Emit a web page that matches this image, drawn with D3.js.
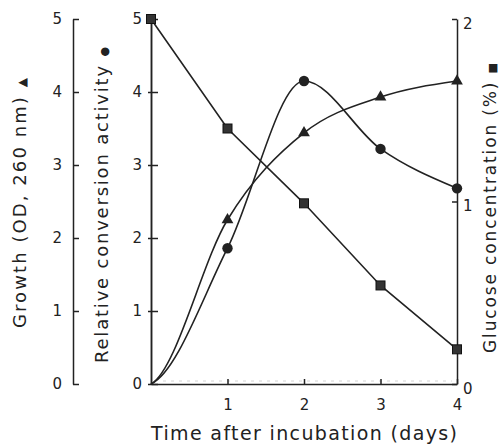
<!DOCTYPE html>
<html>
<head>
<meta charset="utf-8">
<script src="https://cdn.jsdelivr.net/npm/d3@7"></script>
<style>
  html, body { margin: 0; padding: 0; background: #fff; }
  svg { display: block; }
  text { font-family: "DejaVu Sans", sans-serif; fill: #222; }
</style>
</head>
<body>
<svg id="chart" width="501" height="445"></svg>
<script>
// ---- Data ----
const days = [0, 1, 2, 3, 4];
const growth = [0, 2.25, 3.44, 3.93, 4.15];        // OD 260 nm (▲), left outer axis 0-5
const activity = [0, 1.86, 4.15, 3.22, 2.68];      // relative conversion activity (●), left axis 0-5
const glucose = [2.0, 1.40, 0.99, 0.54, 0.19];     // glucose concentration % (■), right axis 0-2
const leftTicks = [0, 1, 2, 3, 4, 5];
const rightTicks = [0, 1, 2];
const xTicks = [1, 2, 3, 4];
const xTitle = "Time after incubation (days)";
const growthTitle = "Growth (OD, 260 nm) ";
const activityTitle = "Relative conversion activity ";
const glucoseTitle = "Glucose concentration (%) ";

const svg = d3.select("#chart");
const ink = "#222";

const x = d3.scaleLinear().domain([0, 4]).range([151, 457]);
const yMain = d3.scaleLinear().domain([0, 5]).range([384, 19]);
const yGrowth = d3.scaleLinear().domain([0, 5]).range([384, 19]);
const yGlu = d3.scaleLinear().domain([0, 2]).range([384, 19]);

// custom smooth curve: lag-phase start, monotone-ish interior tangents
function curveLag(context) {
  return {
    areaStart() {}, areaEnd() {},
    lineStart() { this._x = []; this._y = []; },
    point(px, py) { this._x.push(+px); this._y.push(+py); },
    lineEnd() {
      const X = this._x, Y = this._y, n = X.length;
      if (!n) return;
      const s = [];
      for (let i = 0; i < n - 1; i++) s.push((Y[i + 1] - Y[i]) / (X[i + 1] - X[i]));
      const t = new Array(n).fill(0);
      t[0] = 0.25 * s[0];
      for (let i = 1; i < n - 1; i++) {
        if (s[i - 1] * s[i] <= 0) t[i] = 0;
        else t[i] = (Y[i + 1] - Y[i - 1]) / (X[i + 1] - X[i - 1]);
      }
      if (n > 2) t[n - 1] = (3 * s[n - 2] - t[n - 2]) / 2;
      context.moveTo(X[0], Y[0]);
      for (let i = 0; i < n - 1; i++) {
        const h = X[i + 1] - X[i];
        context.bezierCurveTo(X[i] + h / 3, Y[i] + t[i] * h / 3,
                              X[i + 1] - h / 3, Y[i + 1] - t[i + 1] * h / 3,
                              X[i + 1], Y[i + 1]);
      }
    }
  };
}

// faint scan line near the x axis
svg.append("line")
  .attr("x1", 163).attr("x2", 452).attr("y1", 381).attr("y2", 381)
  .attr("stroke", "#d4d4d4").attr("stroke-width", 1).attr("stroke-dasharray", "3,5");

function styleAxis(g) {
  g.selectAll("path").attr("stroke", ink).attr("stroke-width", 1.5);
  g.selectAll("line").attr("stroke", ink).attr("stroke-width", 1.5);
  g.selectAll("text").attr("font-size", 15).attr("fill", ink)
    .style("font-family", '"DejaVu Sans", sans-serif');
  g.attr("font-family", null).attr("font-size", null);
}

// outer growth axis
svg.append("g").attr("transform", "translate(73,0)")
  .call(d3.axisLeft(yGrowth).tickValues(leftTicks).tickFormat(d3.format("d"))
    .tickSizeInner(-6).tickSizeOuter(0).tickPadding(11))
  .call(styleAxis);

// main left axis
svg.append("g").attr("transform", "translate(151,0)")
  .call(d3.axisRight(yMain).tickValues(leftTicks).tickFormat("").tickSizeInner(7).tickSizeOuter(0))
  .call(styleAxis);
svg.append("g").attr("transform", "translate(151,0)")
  .call(d3.axisLeft(yMain).tickValues(leftTicks).tickFormat(d3.format("d"))
    .tickSizeInner(3).tickSizeOuter(0).tickPadding(6))
  .call(styleAxis);

// right glucose axis
const ra = svg.append("g").attr("transform", "translate(457,0)")
  .call(d3.axisRight(yGlu).tickValues(rightTicks).tickFormat(d3.format("d"))
    .tickSizeInner(-5).tickSizeOuter(0).tickPadding(6))
  .call(styleAxis);
ra.selectAll("text").attr("dy", "0.62em");

// x axis
svg.append("g").attr("transform", "translate(0,384)")
  .call(d3.axisBottom(x).tickValues(xTicks).tickFormat(d3.format("d"))
    .tickSizeInner(-5).tickSizeOuter(0).tickPadding(15))
  .call(styleAxis);

// lines
const ptsGlu = days.map((d, i) => [x(d), yGlu(glucose[i])]);
const ptsAct = days.map((d, i) => [x(d), yMain(activity[i])]);
const ptsGro = days.map((d, i) => [x(d), yGrowth(growth[i])]);

svg.append("path").attr("d", d3.line().curve(d3.curveLinear)(ptsGlu))
  .attr("fill", "none").attr("stroke", ink).attr("stroke-width", 1.6);
svg.append("path").attr("d", d3.line().curve(curveLag)(ptsAct))
  .attr("fill", "none").attr("stroke", ink).attr("stroke-width", 1.6);
svg.append("path").attr("d", d3.line().curve(curveLag)(ptsGro))
  .attr("fill", "none").attr("stroke", ink).attr("stroke-width", 1.6);

// markers
svg.selectAll(".sq").data(ptsGlu).join("rect").attr("class", "sq")
  .attr("x", d => d[0] - 4.5).attr("y", d => d[1] - 4.5)
  .attr("width", 9).attr("height", 9)
  .attr("fill", "#333").attr("stroke", "#111").attr("stroke-width", 1);
svg.selectAll(".ci").data(ptsAct.slice(1)).join("circle").attr("class", "ci")
  .attr("cx", d => d[0]).attr("cy", d => d[1]).attr("r", 5.2).attr("fill", "#222");
const tri = d3.symbol().type(d3.symbolTriangle).size(60);
svg.selectAll(".tr").data(ptsGro.slice(1)).join("path").attr("class", "tr")
  .attr("transform", d => `translate(${d[0]},${d[1]})`).attr("d", tri()).attr("fill", "#222");

// titles
svg.append("text").attr("x", 304).attr("y", 440).attr("text-anchor", "middle")
  .attr("font-size", 19).attr("textLength", 306).attr("lengthAdjust", "spacing")
  .text(xTitle);

function vTitle(xb, yc, len, label, sym, symSize, fs) {
  const t = svg.append("text")
    .attr("transform", `translate(${xb},${yc}) rotate(-90)`)
    .attr("text-anchor", "middle").attr("font-size", fs)
    .attr("textLength", len).attr("lengthAdjust", "spacing");
  t.append("tspan").text(label);
  t.append("tspan").attr("font-size", symSize).text(sym);
}
vTitle(26, 203, 250, growthTitle, "▲", 12, 18);
vTitle(108, 205, 316, activityTitle, "●", 11, 18);
vTitle(496, 208, 290, glucoseTitle, "■", 11, 17);
</script>
</body>
</html>
